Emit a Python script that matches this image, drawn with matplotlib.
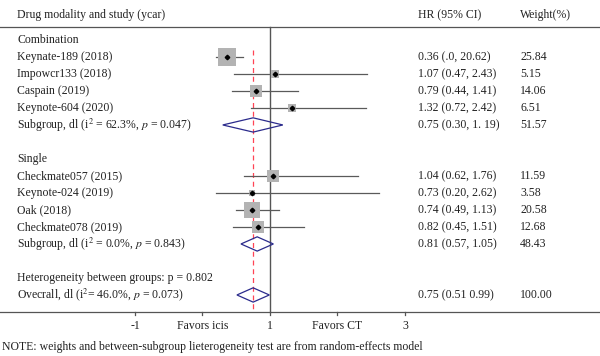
import numpy as np
import matplotlib
matplotlib.use('Agg')
import matplotlib.pyplot as plt
from matplotlib.patches import Polygon

plt.rcParams['font.family'] = ['Liberation Serif', 'DejaVu Serif']
plt.rcParams['mathtext.fontset'] = 'stix'

# ── Data ──
study_labels = ['Keynate-189 (2018)', 'Impowcr133 (2018)', 'Caspain (2019)', 'Keynote-604 (2020)',
                'Checkmate057 (2015)', 'Keynote-024 (2019)', 'Oak (2018)', 'Checkmate078 (2019)']
study_rows = [1, 2, 3, 4, 8, 9, 10, 11]
hr = [0.36, 1.07, 0.79, 1.32, 1.04, 0.73, 0.74, 0.82]
ci_lo = [0.20, 0.47, 0.44, 0.72, 0.61, 0.20, 0.49, 0.45]
ci_hi = [0.60, 2.43, 1.41, 2.42, 2.31, 2.62, 1.13, 1.51]
hr_text = ['0.36 (.0, 20.62)', '1.07 (0.47, 2.43)', '0.79 (0.44, 1.41)', '1.32 (0.72, 2.42)',
           '1.04 (0.62, 1.76)', '0.73 (0.20, 2.62)', '0.74 (0.49, 1.13)', '0.82 (0.45, 1.51)']
weights = [25.84, 5.15, 14.06, 6.51, 11.59, 3.58, 20.58, 12.68]

pooled_labels = ['Subgroup, dl (i$^2$ = 62.3%, $p$ = 0.047)',
                 'Subgroup, dl (i$^2$ = 0.0%, $p$ = 0.843)',
                 'Ovecrall, dl (i$^2$= 46.0%, $p$ = 0.073)']
pooled_rows = [5, 12, 15]
pooled_hr = [0.75, 0.81, 0.75]
pooled_lo = [0.30, 0.57, 0.51]
pooled_hi = [1.19, 1.05, 0.99]
pooled_text = ['0.75 (0.30, 1. 19)', '0.81 (0.57, 1.05)', '0.75 (0.51 0.99)']
pooled_weight = ['51.57', '48.43', '100.00']

group_labels = ['Combination', 'Single', 'Heterogeneity between groups: p = 0.802']
group_rows = [0, 7, 14]

tick_vals = [-1, 0, 1, 2, 3]
tick_labels = ['-1', 'Favors icis', '1', 'Favors CT', '3']
overall_hr = 0.75

# ── Figure ──
fig = plt.figure(figsize=(6.0, 3.56), dpi=100)
ax = fig.add_axes([0, 0, 1, 1])
ax.axis('off')
# x in HR units, y in row units (row 0 = "Combination")
ax.set_xlim(-3.0, 5.889)
ax.set_ylim(18.59, -2.35)

txt = '#222222'
fs = 8.5
x_lab, x_hr, x_w = -2.748, 3.193, 4.704

ax.text(x_lab, -1.45, 'Drug modality and study (ycar)', fontsize=fs, color=txt, va='center')
ax.text(x_hr, -1.45, 'HR (95% CI)', fontsize=fs, color=txt, va='center')
ax.text(x_w, -1.45, 'Weight(%)', fontsize=fs, color=txt, va='center')
ax.axhline(-0.76, color='#555555', lw=0.9)
ax.axhline(16.0, color='#555555', lw=0.9)

# reference lines
ax.plot([1, 1], [-0.76, 16.0], color='#555555', lw=1.0)
ax.plot([overall_hr, overall_hr], [0.6, 16.0], color='#ff4455', lw=0.9, ls=(0, (4, 3)))

for name, r in zip(group_labels, group_rows):
    ax.text(x_lab, r, name, fontsize=fs, color=txt, va='center')

for name, r, h, lo, hi, ht, w in zip(study_labels, study_rows, hr, ci_lo, ci_hi, hr_text, weights):
    ax.text(x_lab, r, name, fontsize=fs, color=txt, va='center')
    ax.plot([lo, hi], [r, r], color='#5a5a5a', lw=0.9, zorder=2)
    ax.plot(h, r, marker='s', color='#b3b3b3', markersize=3.35 * np.sqrt(w) * 0.72,
            markeredgewidth=0, zorder=3)
    ax.plot(h, r, marker='D', color='black', markersize=2.3, zorder=4)
    ax.text(x_hr, r, ht, fontsize=fs, color=txt, va='center')
    ax.text(x_w, r, f'{w:.2f}', fontsize=fs, color=txt, va='center')

for name, r, h, lo, hi, ht, pw in zip(pooled_labels, pooled_rows, pooled_hr, pooled_lo,
                                       pooled_hi, pooled_text, pooled_weight):
    ax.text(x_lab, r, name, fontsize=fs, color=txt, va='center')
    dia = Polygon([[lo, r], [h, r - 0.42], [hi, r], [h, r + 0.42]], closed=True,
                  fill=False, edgecolor='#2b2b8c', lw=0.9, zorder=3)
    ax.add_patch(dia)
    ax.text(x_hr, r, ht, fontsize=fs, color=txt, va='center')
    ax.text(x_w, r, pw, fontsize=fs, color=txt, va='center')

# x axis ticks
for tv, tl in zip(tick_vals, tick_labels):
    ax.plot([tv, tv], [16.0, 16.2], color='#555555', lw=0.9)
    ax.text(tv, 16.8, tl, fontsize=fs, color=txt, ha='center', va='center')

ax.text(-2.97, 18.05, 'NOTE: weights and between-subgroup lieterogeneity test are from random-effects model',
        fontsize=fs, color=txt, va='center')

fig.savefig('out.png', dpi=100, facecolor='white')
